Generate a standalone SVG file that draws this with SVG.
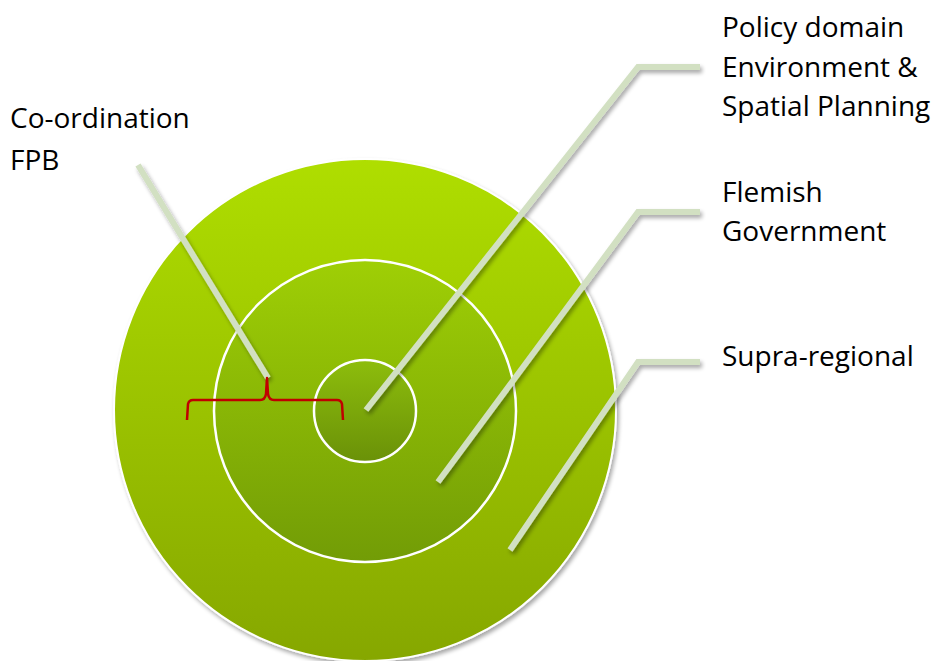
<svg xmlns="http://www.w3.org/2000/svg" width="947" height="661" viewBox="0 0 947 661">
<defs>
<linearGradient id="gOuter" x1="0" y1="0" x2="0" y2="1"><stop offset="0" stop-color="#afde00"/><stop offset="1" stop-color="#86a700"/></linearGradient>
<linearGradient id="gMid" x1="0" y1="0" x2="0" y2="1"><stop offset="0" stop-color="#9fcf05"/><stop offset="1" stop-color="#729c06"/></linearGradient>
<linearGradient id="gIn" x1="0" y1="0" x2="0" y2="1"><stop offset="0" stop-color="#8dbd0c"/><stop offset="1" stop-color="#6a9108"/></linearGradient>
<filter id="sh" x="-20%" y="-20%" width="140%" height="140%"><feGaussianBlur in="SourceAlpha" stdDeviation="2"/><feOffset dx="2" dy="3"/><feComponentTransfer><feFuncA type="linear" slope="0.35"/></feComponentTransfer><feMerge><feMergeNode/><feMergeNode in="SourceGraphic"/></feMerge></filter>
<style>
.lbl{font-family:"Open Sans","Liberation Sans",sans-serif;font-size:28px;fill:#000}
.ring{stroke:#fff;stroke-width:2.5}
.lead{fill:none;stroke:#d2e0c2;stroke-width:6;stroke-linejoin:miter}
.brace{fill:none;stroke:#c00000;stroke-width:2.5;stroke-linejoin:round}
</style>
</defs>
<g id="outer"><circle cx="365" cy="410" r="251" fill="url(#gOuter)" stroke="#fff" stroke-width="2" filter="url(#sh)"/></g>
<g id="middle"><circle cx="365" cy="411" r="151" fill="url(#gMid)" class="ring"/></g>
<g id="inner"><circle cx="365" cy="411" r="51" fill="url(#gIn)" class="ring"/></g>
<g id="connectors" filter="url(#sh)">
<polyline class="lead" points="138,165 268,378"/>
<polyline class="lead" points="366,410 638,67 700,67"/>
<polyline class="lead" points="438,482 638,212 700,212"/>
<polyline class="lead" points="510,550 638,362 700,362"/>
</g>
<g id="brace"><path class="brace" d="M187,420 L188,404 Q189,400 193,400 L260,400 Q265,400 266,394 L267,378 L268,394 Q269,400 274,400 L337,400 Q341,400 342,404 L343,420"/></g>
<g id="label-coord"><text class="lbl" x="10" y="128">Co-ordination</text><text class="lbl" x="10" y="170">FPB</text></g>
<g id="label-policy"><text class="lbl" x="722" y="37">Policy domain</text><text class="lbl" x="722" y="77">Environment &amp;</text><text class="lbl" x="722" y="116">Spatial Planning</text></g>
<g id="label-flemish"><text class="lbl" x="722" y="202">Flemish</text><text class="lbl" x="722" y="241">Government</text></g>
<g id="label-supra"><text class="lbl" x="722" y="366">Supra-regional</text></g>
</svg>
